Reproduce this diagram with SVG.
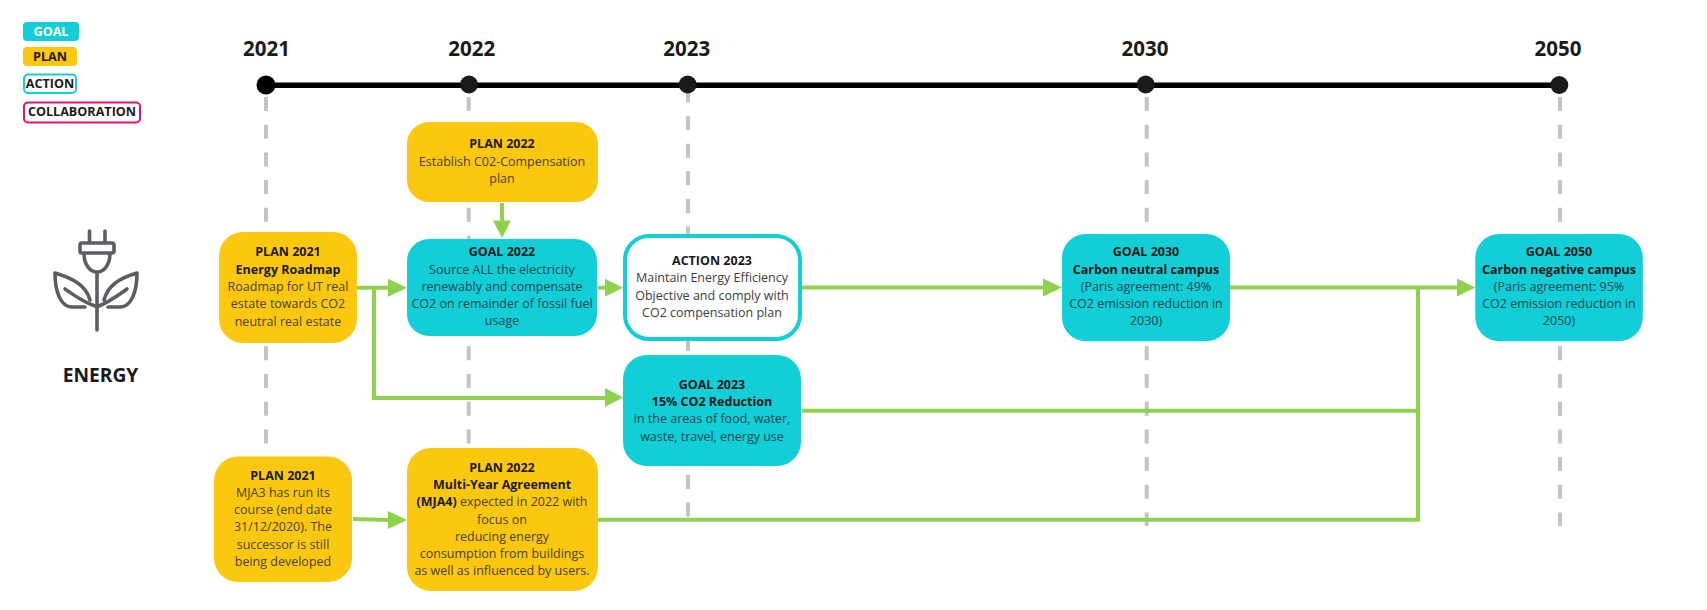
<svg xmlns="http://www.w3.org/2000/svg" width="1707" height="610" viewBox="0 0 1707 610">
<style>
text{font-family:"Open Sans","Noto Sans","Liberation Sans",sans-serif;text-anchor:middle}
.t{font-size:12.5px;fill:#3c3c3c}
.b{font-size:12.5px;font-weight:700;fill:#1a1a1a}
.y .t{fill:#4a3f10}
.g .t{fill:#0d4a50}
.y rect{fill:#fcc80f}
.g rect{fill:#12ced6}
.a rect{fill:#fff;stroke:#12ced6;stroke-width:4}
.lg{font-size:12.6px;font-weight:700;fill:#1a1a1a}
.yr{font-size:20.5px;font-weight:700;fill:#1a1a1a}
.dash{stroke:#c4c4c4;stroke-width:4;stroke-dasharray:14 13.7;fill:none}
.c{stroke:#8fd14f;stroke-width:4;fill:none}
.h{fill:#8fd14f}
.ic{stroke:#5a5d62;stroke-width:3.6;fill:none;stroke-linecap:round;stroke-linejoin:round}
</style>
<rect width="1707" height="610" fill="#fff"/>
<g id="legend">
<g id="legend-goal"><rect x="23" y="22" width="56" height="19" rx="4" fill="#12ced6"/><text x="51" y="35.500" class="lg" style="fill:#fff">GOAL</text></g>
<g id="legend-plan"><rect x="23" y="47" width="54" height="19" rx="4" fill="#fcc80f"/><text x="50" y="60.500" class="lg">PLAN</text></g>
<g id="legend-action"><rect x="24" y="74.500" width="52" height="18.500" rx="4" fill="#fff" stroke="#12ced6" stroke-width="2"/><text x="50" y="87.500" class="lg">ACTION</text></g>
<g id="legend-collaboration"><rect x="24" y="102.500" width="116" height="20" rx="4" fill="#fff" stroke="#e0146c" stroke-width="2"/><text x="82" y="116" class="lg">COLLABORATION</text></g>
</g>
<g id="guides">
<path class="dash" d="M266 97V457"/>
<path class="dash" d="M468.700 97V448"/>
<path class="dash" d="M688 88.500V517" style="stroke-dasharray:14 13.6"/>
<path class="dash" d="M1146.700 97V526"/>
<path class="dash" d="M1560 97V526"/>
</g>
<g id="timeline">
<path d="M266 85.200H1559" stroke="#000" stroke-width="5.500" fill="none"/>
<circle cx="266" cy="85" r="9.500" fill="#000"/>
<circle cx="469" cy="84.500" r="9" fill="#1a1a1a"/>
<circle cx="687.700" cy="84.500" r="9" fill="#1a1a1a"/>
<circle cx="1145.700" cy="84.500" r="9" fill="#1a1a1a"/>
<circle cx="1559.300" cy="85" r="9" fill="#1a1a1a"/>
<text x="266.500" y="55.500" class="yr">2021</text>
<text x="471.700" y="55.500" class="yr">2022</text>
<text x="686.700" y="55.500" class="yr">2023</text>
<text x="1145" y="55.500" class="yr">2030</text>
<text x="1558" y="55.500" class="yr">2050</text>
</g>
<g id="connectors">
<path class="c" d="M357 287.700H390"/><path class="h" d="M388 278.700L407 287.700L388 296.700Z"/>
<path class="c" d="M374 287.700V398H606"/><path class="h" d="M605 388L623 397.500L605 407Z"/>
<path class="c" d="M502 203V222"/><path class="h" d="M493 220.500H511L502 238Z"/>
<path class="c" d="M598 287.700H606"/><path class="h" d="M605 278.700L623 287.700L605 296.700Z"/>
<path class="c" d="M802 287.500H1045"/><path class="h" d="M1043 278.500L1062 287.500L1043 296.500Z"/>
<path class="c" d="M1230 287.500H1459"/><path class="h" d="M1457 278.500L1475.300 287.500L1457 296.500Z"/>
<path class="c" d="M802 410.700H1418"/>
<path class="c" d="M598 519.700H1418V287.500"/>
<path class="c" d="M353 519L390 520"/><path class="h" d="M388 511L407 520L388 529Z"/>
</g>
<g id="energy-icon">
<path class="ic" d="M89.500 231V243M105 231V243M82 243H112Q114 243 114 245V251Q114 253 112 253H82Q80 253 80 251V245Q80 243 82 243ZM84 253C84 265 90 272 97 272C104 272 110 265 110 253M97 272V330"/>
<path class="ic" d="M55 273C72 278 86 285 90 300M55 273C55 290 60 307 72 307H85M65 289C75 296 83 302 95 306"/>
<path class="ic" d="M137 273C120 278 108 285 104 300M137 273C137 290 132 307 120 307H108M127 289C117 296 109 302 99 306"/>
</g>
<text id="energy-label" x="100.500" y="382" font-size="19.200" font-weight="700" fill="#1a1a1a">ENERGY</text>
<g id="plan-2021-roadmap" class="y"><rect x="219" y="232" width="138" height="111" rx="24"/>
<text x="288" y="256" class="b">PLAN 2021</text><text x="288" y="274" class="b">Energy Roadmap</text>
<text x="288" y="291" class="t">Roadmap for UT real</text><text x="288" y="308" class="t">estate towards CO2</text><text x="288" y="326" class="t">neutral real estate</text></g>
<g id="plan-2021-mja3" class="y"><rect x="214" y="456.500" width="138" height="125.500" rx="24"/>
<text x="283" y="479.500" class="b">PLAN 2021</text><text x="283" y="497" class="t">MJA3 has run its</text><text x="283" y="514" class="t">course (end date</text><text x="283" y="531" class="t">31/12/2020). The</text><text x="283" y="548.500" class="t">successor is still</text><text x="283" y="566" class="t">being developed</text></g>
<g id="plan-2022-c02" class="y"><rect x="407" y="122" width="191" height="80" rx="22"/>
<text x="502" y="148" class="b">PLAN 2022</text><text x="502" y="166" class="t">Establish C02-Compensation</text><text x="502" y="183" class="t">plan</text></g>
<g id="goal-2022" class="g"><rect x="407" y="239" width="190" height="97" rx="22"/>
<text x="502" y="256" class="b">GOAL 2022</text><text x="502" y="274" class="t">Source ALL the electricity</text><text x="502" y="291" class="t">renewably and compensate</text><text x="502" y="308" class="t">CO2 on remainder of fossil fuel</text><text x="502" y="325" class="t">usage</text></g>
<g id="plan-2022-mja4" class="y"><rect x="407" y="448" width="191" height="143" rx="24"/>
<text x="502" y="471.500" class="b">PLAN 2022</text><text x="502" y="489" class="b">Multi-Year Agreement</text>
<text x="502" y="506" class="t"><tspan class="b">(MJA4)</tspan> expected in 2022 with</text><text x="502" y="523.500" class="t">focus on</text><text x="502" y="541" class="t">reducing energy</text><text x="502" y="558" class="t">consumption from buildings</text><text x="502" y="575" class="t">as well as influenced by users.</text></g>
<g id="action-2023" class="a"><rect x="625" y="236" width="175" height="103" rx="24"/>
<text x="712" y="265" class="b">ACTION 2023</text><text x="712" y="282" class="t">Maintain Energy Efficiency</text><text x="712" y="300" class="t">Objective and comply with</text><text x="712" y="317" class="t">CO2 compensation plan</text></g>
<g id="goal-2023" class="g"><rect x="623" y="355" width="178" height="111" rx="24"/>
<text x="712" y="389" class="b">GOAL 2023</text><text x="712" y="406" class="b">15% CO2 Reduction</text><text x="712" y="423" class="t">in the areas of food, water,</text><text x="712" y="441" class="t">waste, travel, energy use</text></g>
<g id="goal-2030" class="g"><rect x="1062" y="234" width="168" height="107.300" rx="24"/>
<text x="1146" y="256" class="b">GOAL 2030</text><text x="1146" y="274" class="b">Carbon neutral campus</text><text x="1146" y="291" class="t">(Paris agreement: 49%</text><text x="1146" y="308" class="t">CO2 emission reduction in</text><text x="1146" y="325" class="t">2030)</text></g>
<g id="goal-2050" class="g"><rect x="1475.300" y="234" width="167.500" height="107.300" rx="24"/>
<text x="1559" y="256" class="b">GOAL 2050</text><text x="1559" y="274" class="b">Carbon negative campus</text><text x="1559" y="291" class="t">(Paris agreement: 95%</text><text x="1559" y="308" class="t">CO2 emission reduction in</text><text x="1559" y="325" class="t">2050)</text></g>
</svg>
